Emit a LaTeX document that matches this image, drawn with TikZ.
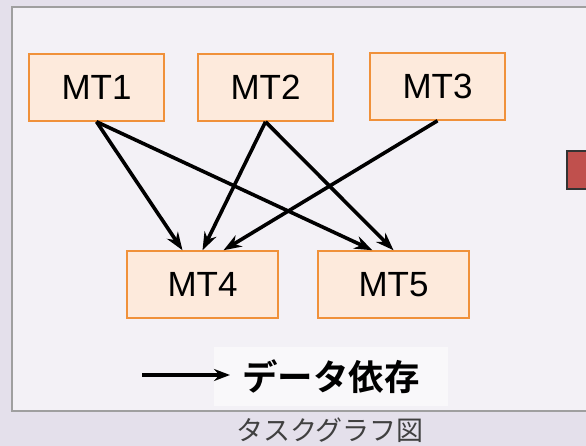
\documentclass[tikz,border=0pt]{standalone}
\usepackage{fontspec}
\setmainfont{Liberation Sans}
\newfontfamily\jpfont{Noto Sans CJK JP}
\newfontfamily\jpbold{Noto Sans CJK JP Bold}
\usetikzlibrary{arrows.meta}
\definecolor{bgout}{HTML}{E4E0EB}
\definecolor{bgin}{HTML}{F3F1F6}
\definecolor{boxfill}{HTML}{FDEADC}
\definecolor{boxline}{HTML}{F0913A}
\definecolor{redsq}{HTML}{C0504D}
\tikzset{
  mtbox/.style={draw=boxline, fill=boxfill, line width=1.5pt, minimum width=135pt, minimum height=67pt, inner sep=0pt, font=\fontsize{35}{35}\selectfont},
  dep/.style={line width=3.6pt, -{Stealth[length=18pt,width=13pt]}}
}
\begin{document}
\begin{tikzpicture}[x=1pt,y=-1pt]
\useasboundingbox (0,0) rectangle (586,446);
\fill[bgout] (0,0) rectangle (586,446);
\draw[fill=bgin, draw=gray!75, line width=2pt] (600,7) -- (12,7) -- (12,411) -- (600,411);
\fill[white, opacity=0.5] (214,347) rectangle (448,406);
\node[mtbox] (mt1) at (96.5,87.5) {MT1};
\node[mtbox] (mt2) at (265.5,87.5) {MT2};
\node[mtbox] (mt3) at (437.5,86.5) {MT3};
\node[mtbox, minimum width=151pt] (mt4) at (202.5,284.5) {MT4};
\node[mtbox, minimum width=151pt] (mt5) at (393.5,284.5) {MT5};
\draw[fill=redsq, draw=black!80, line width=1.5pt] (567,151) rectangle (590,189);
\draw[dep] (mt1.south) -- ([xshift=-20pt]mt4.north);
\draw[dep] (mt1.south) -- ([xshift=-21pt]mt5.north);
\draw[dep] (mt2.south) -- (mt4.north);
\draw[dep] (mt2.south) -- (mt5.north);
\draw[dep] (mt3.south) -- ([xshift=21pt]mt4.north);
\coordinate (lgA) at (142,375);
\coordinate (lgB) at (230,375);
\draw[line width=3.4pt, -{Stealth[length=16pt,width=12pt]}] (lgA) -- (lgB);
\node[anchor=west, inner sep=0pt, font=\jpbold\fontsize{35.5}{35.5}\selectfont] (lg) at (242,377) {データ依存};
\node[inner sep=0pt, text=black!75, font=\jpfont\fontsize{27}{27}\selectfont] (cap) at (330,430) {タスクグラフ図};
\end{tikzpicture}
\end{document}
